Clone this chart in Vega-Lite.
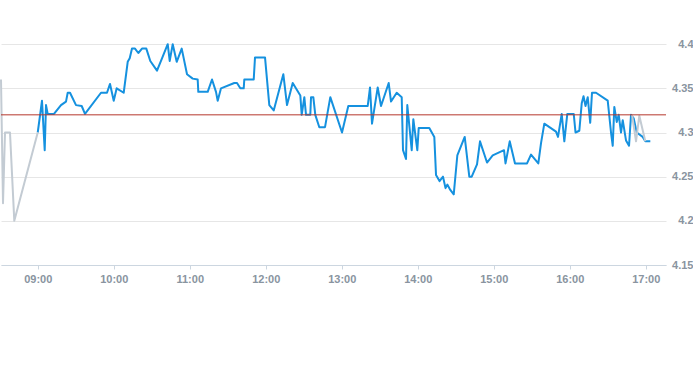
{
  "$schema": "https://vega.github.io/schema/vega-lite/v6.json",
  "width": 665,
  "height": 265,
  "padding": {"left": 0, "top": 0, "right": 0, "bottom": 0},
  "background": "white",
  "config": {"view": {"stroke": null}},
  "datasets": {
    "main": [
      {"t": "2024-01-02 09:00:00", "price": 4.30},
      {"t": "2024-01-02 09:03:22", "price": 4.336},
      {"t": "2024-01-02 09:05:30", "price": 4.28},
      {"t": "2024-01-02 09:06:32", "price": 4.331},
      {"t": "2024-01-02 09:07:52", "price": 4.321},
      {"t": "2024-01-02 09:12:50", "price": 4.321},
      {"t": "2024-01-02 09:18:22", "price": 4.331},
      {"t": "2024-01-02 09:22:19", "price": 4.335},
      {"t": "2024-01-02 09:23:40", "price": 4.345},
      {"t": "2024-01-02 09:25:29", "price": 4.345},
      {"t": "2024-01-02 09:30:13", "price": 4.331},
      {"t": "2024-01-02 09:34:43", "price": 4.33},
      {"t": "2024-01-02 09:37:19", "price": 4.321},
      {"t": "2024-01-02 09:49:57", "price": 4.345},
      {"t": "2024-01-02 09:54:41", "price": 4.345},
      {"t": "2024-01-02 09:57:04", "price": 4.355},
      {"t": "2024-01-02 10:00:00", "price": 4.336},
      {"t": "2024-01-02 10:02:20", "price": 4.35},
      {"t": "2024-01-02 10:07:52", "price": 4.345},
      {"t": "2024-01-02 10:11:02", "price": 4.38},
      {"t": "2024-01-02 10:12:37", "price": 4.384},
      {"t": "2024-01-02 10:14:25", "price": 4.395},
      {"t": "2024-01-02 10:16:47", "price": 4.395},
      {"t": "2024-01-02 10:19:24", "price": 4.39},
      {"t": "2024-01-02 10:22:19", "price": 4.395},
      {"t": "2024-01-02 10:25:43", "price": 4.395},
      {"t": "2024-01-02 10:28:52", "price": 4.381},
      {"t": "2024-01-02 10:34:10", "price": 4.37},
      {"t": "2024-01-02 10:38:40", "price": 4.386},
      {"t": "2024-01-02 10:42:37", "price": 4.40},
      {"t": "2024-01-02 10:44:11", "price": 4.381},
      {"t": "2024-01-02 10:46:34", "price": 4.40},
      {"t": "2024-01-02 10:49:43", "price": 4.38},
      {"t": "2024-01-02 10:53:40", "price": 4.395},
      {"t": "2024-01-02 10:57:51", "price": 4.366},
      {"t": "2024-01-02 11:02:21", "price": 4.361},
      {"t": "2024-01-02 11:06:17", "price": 4.36},
      {"t": "2024-01-02 11:06:46", "price": 4.346},
      {"t": "2024-01-02 11:14:11", "price": 4.346},
      {"t": "2024-01-02 11:17:35", "price": 4.36},
      {"t": "2024-01-02 11:20:44", "price": 4.346},
      {"t": "2024-01-02 11:22:05", "price": 4.336},
      {"t": "2024-01-02 11:24:41", "price": 4.35},
      {"t": "2024-01-02 11:35:11", "price": 4.356},
      {"t": "2024-01-02 11:37:19", "price": 4.356},
      {"t": "2024-01-02 11:39:56", "price": 4.35},
      {"t": "2024-01-02 11:42:37", "price": 4.35},
      {"t": "2024-01-02 11:43:05", "price": 4.36},
      {"t": "2024-01-02 11:50:31", "price": 4.36},
      {"t": "2024-01-02 11:51:32", "price": 4.385},
      {"t": "2024-01-02 11:59:26", "price": 4.385},
      {"t": "2024-01-02 12:02:49", "price": 4.331},
      {"t": "2024-01-02 12:06:18", "price": 4.325},
      {"t": "2024-01-02 12:13:53", "price": 4.366},
      {"t": "2024-01-02 12:16:48", "price": 4.331},
      {"t": "2024-01-02 12:21:18", "price": 4.356},
      {"t": "2024-01-02 12:27:18", "price": 4.342},
      {"t": "2024-01-02 12:28:24", "price": 4.32},
      {"t": "2024-01-02 12:30:28", "price": 4.34},
      {"t": "2024-01-02 12:31:48", "price": 4.32},
      {"t": "2024-01-02 12:35:11", "price": 4.32},
      {"t": "2024-01-02 12:35:45", "price": 4.34},
      {"t": "2024-01-02 12:37:34", "price": 4.34},
      {"t": "2024-01-02 12:39:08", "price": 4.32},
      {"t": "2024-01-02 12:42:18", "price": 4.306},
      {"t": "2024-01-02 12:46:48", "price": 4.306},
      {"t": "2024-01-02 12:50:59", "price": 4.34},
      {"t": "2024-01-02 13:00:13", "price": 4.30},
      {"t": "2024-01-02 13:05:11", "price": 4.33},
      {"t": "2024-01-02 13:20:31", "price": 4.33},
      {"t": "2024-01-02 13:22:20", "price": 4.351},
      {"t": "2024-01-02 13:23:54", "price": 4.31},
      {"t": "2024-01-02 13:28:24", "price": 4.351},
      {"t": "2024-01-02 13:31:01", "price": 4.33},
      {"t": "2024-01-02 13:37:05", "price": 4.356},
      {"t": "2024-01-02 13:38:55", "price": 4.335},
      {"t": "2024-01-02 13:43:24", "price": 4.345},
      {"t": "2024-01-02 13:47:21", "price": 4.34},
      {"t": "2024-01-02 13:48:23", "price": 4.28},
      {"t": "2024-01-02 13:50:45", "price": 4.27},
      {"t": "2024-01-02 13:51:46", "price": 4.331},
      {"t": "2024-01-02 13:55:15", "price": 4.28},
      {"t": "2024-01-02 13:56:31", "price": 4.315},
      {"t": "2024-01-02 13:59:40", "price": 4.28},
      {"t": "2024-01-02 14:00:46", "price": 4.305},
      {"t": "2024-01-02 14:09:08", "price": 4.305},
      {"t": "2024-01-02 14:13:05", "price": 4.295},
      {"t": "2024-01-02 14:14:26", "price": 4.252},
      {"t": "2024-01-02 14:17:12", "price": 4.245},
      {"t": "2024-01-02 14:19:58", "price": 4.25},
      {"t": "2024-01-02 14:21:56", "price": 4.237},
      {"t": "2024-01-02 14:23:21", "price": 4.241},
      {"t": "2024-01-02 14:25:43", "price": 4.235},
      {"t": "2024-01-02 14:28:25", "price": 4.23},
      {"t": "2024-01-02 14:31:15", "price": 4.274},
      {"t": "2024-01-02 14:37:05", "price": 4.295},
      {"t": "2024-01-02 14:40:43", "price": 4.25},
      {"t": "2024-01-02 14:42:37", "price": 4.25},
      {"t": "2024-01-02 14:46:48", "price": 4.264},
      {"t": "2024-01-02 14:49:10", "price": 4.29},
      {"t": "2024-01-02 14:54:42", "price": 4.266},
      {"t": "2024-01-02 14:59:12", "price": 4.274},
      {"t": "2024-01-02 15:08:07", "price": 4.28},
      {"t": "2024-01-02 15:09:18", "price": 4.265},
      {"t": "2024-01-02 15:12:37", "price": 4.29},
      {"t": "2024-01-02 15:16:48", "price": 4.265},
      {"t": "2024-01-02 15:26:17", "price": 4.265},
      {"t": "2024-01-02 15:29:26", "price": 4.275},
      {"t": "2024-01-02 15:35:12", "price": 4.265},
      {"t": "2024-01-02 15:37:20", "price": 4.288},
      {"t": "2024-01-02 15:39:56", "price": 4.31},
      {"t": "2024-01-02 15:49:10", "price": 4.301},
      {"t": "2024-01-02 15:50:45", "price": 4.295},
      {"t": "2024-01-02 15:53:40", "price": 4.321},
      {"t": "2024-01-02 15:55:44", "price": 4.29},
      {"t": "2024-01-02 15:58:05", "price": 4.321},
      {"t": "2024-01-02 16:03:09", "price": 4.321},
      {"t": "2024-01-02 16:04:34", "price": 4.30},
      {"t": "2024-01-02 16:07:34", "price": 4.302},
      {"t": "2024-01-02 16:09:28", "price": 4.333},
      {"t": "2024-01-02 16:10:53", "price": 4.341},
      {"t": "2024-01-02 16:12:28", "price": 4.33},
      {"t": "2024-01-02 16:14:12", "price": 4.34},
      {"t": "2024-01-02 16:16:10", "price": 4.311},
      {"t": "2024-01-02 16:17:35", "price": 4.345},
      {"t": "2024-01-02 16:20:45", "price": 4.345},
      {"t": "2024-01-02 16:29:59", "price": 4.336},
      {"t": "2024-01-02 16:32:36", "price": 4.30},
      {"t": "2024-01-02 16:33:56", "price": 4.285},
      {"t": "2024-01-02 16:35:12", "price": 4.329},
      {"t": "2024-01-02 16:37:06", "price": 4.312},
      {"t": "2024-01-02 16:38:40", "price": 4.32},
      {"t": "2024-01-02 16:40:29", "price": 4.30},
      {"t": "2024-01-02 16:41:50", "price": 4.314},
      {"t": "2024-01-02 16:44:26", "price": 4.291},
      {"t": "2024-01-02 16:46:49", "price": 4.285},
      {"t": "2024-01-02 16:48:23", "price": 4.32},
      {"t": "2024-01-02 16:50:31", "price": 4.316},
      {"t": "2024-01-02 16:52:53", "price": 4.30},
      {"t": "2024-01-02 16:57:37", "price": 4.295},
      {"t": "2024-01-02 16:59:40", "price": 4.29},
      {"t": "2024-01-02 17:03:37", "price": 4.29}
    ],
    "ext": [
      {"session": "pre", "t": "2024-01-02 08:31:00", "price": 4.36},
      {"session": "pre", "t": "2024-01-02 08:32:35", "price": 4.22},
      {"session": "pre", "t": "2024-01-02 08:34:10", "price": 4.30},
      {"session": "pre", "t": "2024-01-02 08:38:06", "price": 4.30},
      {"session": "pre", "t": "2024-01-02 08:41:30", "price": 4.20},
      {"session": "pre", "t": "2024-01-02 09:00:00", "price": 4.30},
      {"session": "post", "t": "2024-01-02 16:49:11", "price": 4.32},
      {"session": "post", "t": "2024-01-02 16:52:20", "price": 4.29},
      {"session": "post", "t": "2024-01-02 16:54:56", "price": 4.319},
      {"session": "post", "t": "2024-01-02 16:59:40", "price": 4.29}
    ],
    "ref": [{"price": 4.32}]
  },
  "layer": [
    {
      "data": {"name": "main"},
      "mark": {"type": "line", "color": "#1591df", "strokeWidth": 2, "strokeJoin": "round"},
      "encoding": {
        "x": {
          "field": "t", "type": "temporal", "title": null,
          "scale": {"domain": [
            {"year": 2024, "month": 1, "date": 2, "hours": 8, "minutes": 31},
            {"year": 2024, "month": 1, "date": 2, "hours": 17, "minutes": 16}
          ]},
          "axis": {
            "values": [
              {"year": 2024, "month": 1, "date": 2, "hours": 9},
              {"year": 2024, "month": 1, "date": 2, "hours": 10},
              {"year": 2024, "month": 1, "date": 2, "hours": 11},
              {"year": 2024, "month": 1, "date": 2, "hours": 12},
              {"year": 2024, "month": 1, "date": 2, "hours": 13},
              {"year": 2024, "month": 1, "date": 2, "hours": 14},
              {"year": 2024, "month": 1, "date": 2, "hours": 15},
              {"year": 2024, "month": 1, "date": 2, "hours": 16},
              {"year": 2024, "month": 1, "date": 2, "hours": 17}
            ],
            "format": "%H:%M",
            "grid": false,
            "domainColor": "#ccd6e0",
            "tickColor": "#ccd6e0",
            "tickSize": 4,
            "labelPadding": 4,
            "labelFont": "Liberation Sans",
            "labelFontSize": 11,
            "labelFontWeight": "bold",
            "labelColor": "#8994a0"
          }
        },
        "y": {
          "field": "price", "type": "quantitative", "title": null,
          "scale": {"domain": [4.15, 4.45], "zero": false, "nice": false},
          "axis": {
            "orient": "right",
            "values": [4.15, 4.2, 4.25, 4.3, 4.35, 4.4],
            "format": "~g",
            "domain": false,
            "ticks": false,
            "grid": true,
            "gridColor": "#e6e6e6",
            "labelAlign": "right",
            "labelPadding": 27,
            "labelFont": "Liberation Sans",
            "labelFontSize": 11,
            "labelFontWeight": "bold",
            "labelColor": "#8994a0"
          }
        }
      }
    },
    {
      "data": {"name": "ext"},
      "mark": {"type": "line", "color": "#c3cbd3", "strokeWidth": 2, "strokeJoin": "round"},
      "encoding": {
        "x": {"field": "t", "type": "temporal"},
        "y": {"field": "price", "type": "quantitative"},
        "detail": {"field": "session"}
      }
    },
    {
      "data": {"name": "ref"},
      "mark": {"type": "rule", "color": "#b5372c", "strokeWidth": 1},
      "encoding": {
        "y": {"field": "price", "type": "quantitative"}
      }
    }
  ]
}
